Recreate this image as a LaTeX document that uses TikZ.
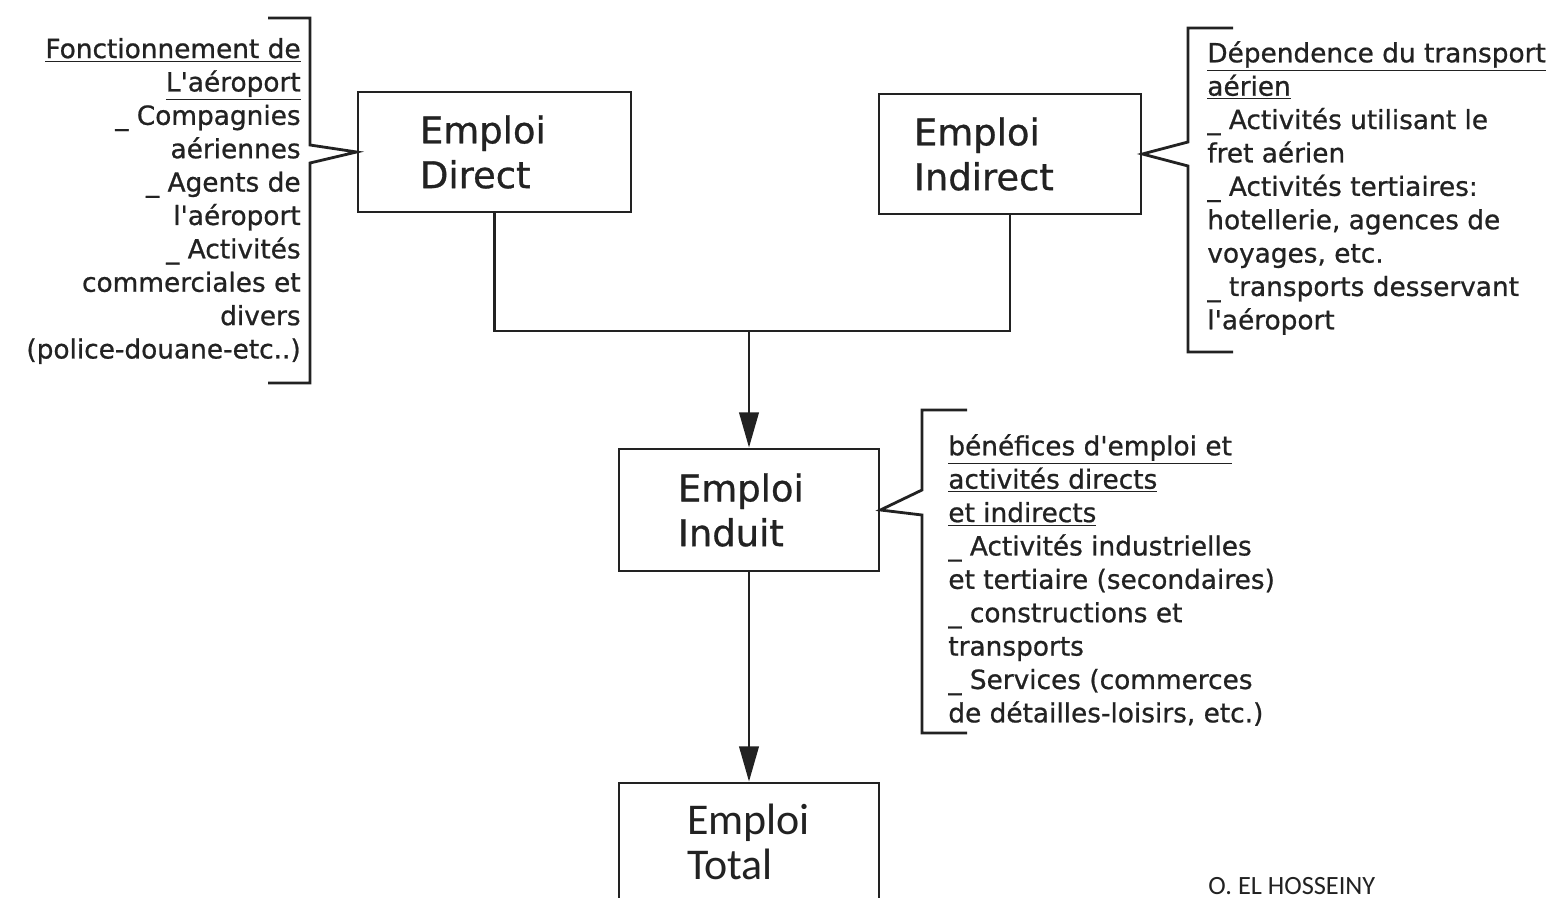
\documentclass[tikz,border=0pt]{standalone}
\usepackage{fontspec}
\setmainfont{DejaVu Sans}[FakeBold=0.8]
\newfontfamily\calfont{Carlito}
\usetikzlibrary{arrows.meta}
\definecolor{INK}{HTML}{222222}

\begin{document}
\begin{tikzpicture}[
  x=0.02cm, y=-0.02cm,
  box/.style={draw=INK, line width=1.6pt, rectangle, align=left, inner ysep=0pt,
    minimum height=2.4cm, text=INK, font=\fontsize{21}{25.5}\selectfont},
  link/.style={draw=INK, line width=1.6pt},
  arrow/.style={link, -{Triangle[length=20pt, width=11pt]}},
  brace/.style={draw=INK, line width=1.6pt},
  list/.style={text=INK, inner sep=0pt, font=\fontsize{15}{19}\selectfont},
  sign/.style={text=INK, inner sep=0pt, anchor=north west, font=\calfont\fontsize{15}{18}\selectfont},
]
\useasboundingbox (0,0) rectangle (1559,898);
\clip (0,0) rectangle (1559,898);
\fill[white] (0,0) rectangle (1559,898);

% the four kinds of jobs
\node[box, text width=2.98cm, inner xsep=1.24cm] (direct) at (494.5,152) {Emploi\\Direct};
\node[box, text width=3.84cm, inner xsep=0.7cm] (indirect) at (1010,154) {Emploi\\Indirect};
\node[box, text width=2.84cm, inner xsep=1.18cm, minimum height=2.44cm] (induit) at (749,510) {Emploi\\Induit};
\node[box, text width=2.48cm, inner xsep=1.36cm, minimum height=2.36cm,
  font=\calfont\fontsize{25}{25.5}\selectfont] (total) at (749,842) {Emploi\\Total};

% direct + indirect -> induit -> total
\coordinate (join) at (749,331);
\draw[link] (direct.south) |- (join) -| (indirect.south);
\draw[arrow] (join) -- (induit.north);
\draw[arrow] (induit.south) -- (total.north);

% Fonctionnement
\draw[brace] (268,18) -- (310,18) -- (310,145) -- (direct.west) -- (310,163) -- (310,383) -- (268,383);
\node[list, align=right, anchor=east] (fonct) at (301,201) {%
  \underline{Fonctionnement de}\\
  \underline{L\textquotesingle a\'eroport}\\
  \_ Compagnies\\
  a\'eriennes\\
  \_ Agents de\\
  l\textquotesingle a\'eroport\\
  \_ Activit\'es\\
  commerciales et\\
  divers\\
  (police-douane-etc..)};

% Dependence
\draw[brace] (1233,28) -- (1188,28) -- (1188,142) -- (indirect.east) -- (1188,166) -- (1188,352) -- (1233,352);
\node[list, align=left, anchor=west] (depend) at (1207,188) {%
  \underline{D\'ependence du transport}\\
  \underline{a\'erien}\\
  \_ Activit\'es utilisant le\\
  fret a\'erien\\
  \_ Activit\'es tertiaires:\\
  hotellerie, agences de\\
  voyages, etc.\\
  \_ transports desservant\\
  l\textquotesingle a\'eroport};

% benefices
\draw[brace] (967,410) -- (922,410) -- (922,490) -- (induit.east) -- (922,515) -- (922,733) -- (967,733);
\node[list, align=left, anchor=west] (benef) at (948,580) {%
  \underline{b\'en\'efices d\textquotesingle emploi et}\\
  \underline{activit\'es directs}\\
  \underline{et indirects}\\
  \_ Activit\'es industrielles\\
  et tertiaire (secondaires)\\
  \_ constructions et\\
  transports\\
  \_ Services (commerces\\
  de d\'etailles-loisirs, etc.)};

\node[sign] (author) at (1208,877) {O. EL HOSSEINY};

\end{tikzpicture}
\end{document}
